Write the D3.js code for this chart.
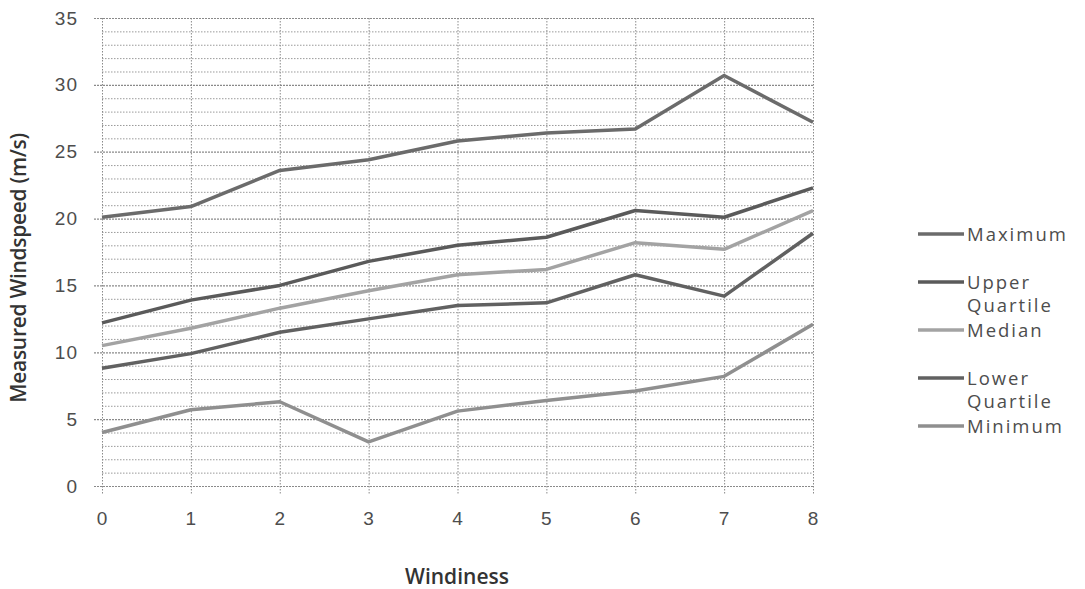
<!DOCTYPE html>
<html>
<head>
<meta charset="utf-8">
<script src="https://cdn.jsdelivr.net/npm/d3@7"></script>
<style>
  html, body { margin: 0; padding: 0; background: #fff; }
  svg { display: block; font-family: "Open Sans", Lato, sans-serif; }
  .tick text { fill: #4d4d4d; font-size: 19px; letter-spacing: 1px; }
</style>
</head>
<body>
<div id="chart"></div>
<script>
// windiness levels on the x axis
const windiness = [0, 1, 2, 3, 4, 5, 6, 7, 8];

// measured windspeed statistics (m/s)
const maximum       = [20.1, 20.9, 23.6, 24.4, 25.8, 26.4, 26.7, 30.7, 27.2];
const upperQuartile = [12.2, 13.9, 15.0, 16.8, 18.0, 18.6, 20.6, 20.1, 22.3];
const median        = [10.5, 11.8, 13.3, 14.6, 15.8, 16.2, 18.2, 17.7, 20.6];
const lowerQuartile = [8.8, 9.9, 11.5, 12.5, 13.5, 13.7, 15.8, 14.2, 18.9];
const minimum       = [4.0, 5.7, 6.3, 3.3, 5.6, 6.4, 7.1, 8.2, 12.1];

const yTicks = [0, 5, 10, 15, 20, 25, 30, 35];

const seriesNames = ["Maximum", "Upper Quartile", "Median", "Lower Quartile", "Minimum"];
const seriesValues = [maximum, upperQuartile, median, lowerQuartile, minimum];
const seriesColors = ["#6b6b6b", "#5a5a5a", "#a3a3a3", "#616161", "#8f8f8f"];

const W = 1085, H = 589;
const M = { left: 102, right: 272, top: 18, bottom: 103 };

const svg = d3.select("#chart").append("svg").attr("width", W).attr("height", H);

const x = d3.scaleLinear().domain([0, 8]).range([M.left, W - M.right]);
const y = d3.scaleLinear().domain([0, 35]).range([H - M.bottom, M.top]);

// minor horizontal grid (every 1 m/s)
const g = svg.append("g");
g.selectAll("line.minor").data(d3.range(1, 36).filter(v => v % 5 !== 0)).join("line")
  .attr("x1", x(0)).attr("x2", x(8))
  .attr("y1", d => y(d) + 0.5).attr("y2", d => y(d) + 0.5)
  .attr("stroke", "#9a9a9a").attr("stroke-width", 1).attr("stroke-dasharray", "1.5,1.5");
// major horizontal grid (every 5)
g.selectAll("line.major").data(yTicks).join("line")
  .attr("x1", x(0) - 8).attr("x2", x(8))
  .attr("y1", d => y(d) + 0.5).attr("y2", d => y(d) + 0.5)
  .attr("stroke", "#8a8a8a").attr("stroke-width", 1.2).attr("stroke-dasharray", "2,1");
// vertical grid
g.selectAll("line.vert").data(windiness).join("line")
  .attr("x1", d => x(d) + 0.5).attr("x2", d => x(d) + 0.5)
  .attr("y1", y(35)).attr("y2", y(0) + 8)
  .attr("stroke", "#8a8a8a").attr("stroke-width", 1).attr("stroke-dasharray", "1.5,1.5");

// tick labels via d3 axes
const yAxis = svg.append("g").attr("transform", `translate(${x(0) - 20},0)`)
  .call(d3.axisLeft(y).tickValues(yTicks).tickSize(0).tickPadding(4));
yAxis.select(".domain").remove();

const xAxis = svg.append("g").attr("transform", `translate(0,${y(0) + 22})`)
  .call(d3.axisBottom(x).tickValues(windiness).tickSize(0).tickPadding(4).tickFormat(d3.format("d")));
xAxis.select(".domain").remove();

// lines
const line = d3.line().x((d, i) => x(windiness[i])).y(d => y(d));
svg.selectAll("path.series").data(seriesValues).join("path")
  .attr("fill", "none")
  .attr("stroke", (d, i) => seriesColors[i])
  .attr("stroke-width", 3.5)
  .attr("stroke-linejoin", "round")
  .attr("d", line);

// axis titles
svg.append("text").attr("x", 457).attr("y", 584)
  .attr("text-anchor", "middle").attr("font-size", 21).attr("font-weight", 600).attr("fill", "#333")
  .text("Windiness");
svg.append("text").attr("transform", `translate(26,${(y(0) + y(35)) / 2 + 16}) rotate(-90)`)
  .attr("text-anchor", "middle").attr("font-size", 21).attr("font-weight", 600).attr("fill", "#333")
  .attr("letter-spacing", -0.3)
  .text("Measured Windspeed (m/s)");

// legend
const legendY = [234, 282, 330, 378, 426];
const leg = svg.append("g");
seriesNames.forEach((name, i) => {
  const row = leg.append("g").attr("transform", `translate(918,${legendY[i]})`);
  row.append("line").attr("x1", 0).attr("x2", 46).attr("y1", 0).attr("y2", 0)
    .attr("stroke", seriesColors[i]).attr("stroke-width", 3.5);
  const words = name.split(" ");
  const t = row.append("text").attr("x", 49).attr("y", 7).attr("font-size", 18.5)
    .attr("letter-spacing", 2).attr("fill", "#4d4d4d");
  words.forEach((w, k) => t.append("tspan").attr("x", 49).attr("dy", k === 0 ? 0 : 23).text(w));
});
</script>
</body>
</html>
